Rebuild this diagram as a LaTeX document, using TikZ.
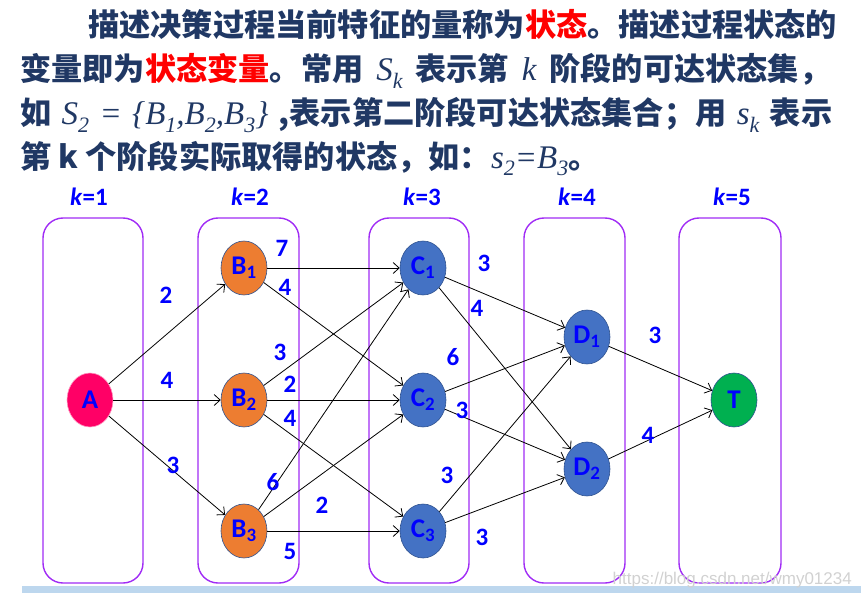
\documentclass[tikz,border=0pt]{standalone}
\usepackage{fontspec}
\setmainfont{Carlito}
\newfontfamily\cjk{Noto Sans CJK SC}
\newfontfamily\tnr{Liberation Serif}
\newfontfamily\wmfont{Liberation Sans}
\usetikzlibrary{shapes.geometric,arrows.meta}
\definecolor{navy}{HTML}{203864}
\definecolor{stageviolet}{HTML}{A02BF5}
\definecolor{nodeblue}{HTML}{4472C4}
\definecolor{nodeorange}{HTML}{ED7D31}
\definecolor{nodepink}{HTML}{FF0066}
\definecolor{nodegreen}{HTML}{00B050}
\definecolor{nodeedge}{HTML}{2F528F}
\definecolor{barblue}{HTML}{BDD7EE}
\newcommand{\mv}[2]{{\tnr\mdseries\itshape\fontsize{33}{33}\selectfont #1\raisebox{-.22em}{\fontsize{22}{22}\selectfont #2}}}
\newcommand{\mt}[1]{{\tnr\mdseries\itshape\fontsize{33}{33}\selectfont #1}}

\begin{document}
\begin{tikzpicture}[x=1pt,y=-1pt,
    stage/.style={draw=stageviolet,line width=1.4pt,rounded corners=20pt},
    state/.style={ellipse,fill=#1,draw=nodeedge,line width=.6pt,minimum width=46pt,
        minimum height=54pt,inner sep=0pt,text=blue,font=\fontsize{27}{27}\selectfont\bfseries},
    wt/.style={text=blue,inner sep=0pt,font=\fontsize{25}{25}\selectfont\bfseries},
    link/.style={-{Straight Barb[length=6pt,width=11pt]},line width=.8pt},
    para/.style={anchor=base west,inner sep=0pt,text=navy,font=\fontsize{31.2}{31.2}\selectfont\cjk\bfseries}]
  \useasboundingbox (0,0) rectangle (861,596);
  % text above
  \node[para] (l1) at (88,37) {描述决策过程当前特征的量称为\textcolor{red}{状态}。描述过程状态的};
  \node[para] (l2) at (20,81) {\makebox[810pt][s]{变量即为\textcolor{red}{状态变量}。常用 \mv{S}{k} 表示第 \mt{k} 阶段的可达状态集，}};
  \node[para] (l3) at (20,125) {\makebox[812pt][s]{如 \mv{S}{2} \mt{=} \mt{\{}\mv{B}{1}\mt{,}\mv{B}{2}\mt{,}\mv{B}{3}\mt{\}} ,表示第二阶段可达状态集合；用 \mv{s}{k} 表示}};
  \node[para] (l4) at (20,168) {第 k 个阶段实际取得的状态，如：\mv{s}{2}\mt{=}\mv{B}{3}。};
  % stages
  \fill[barblue] (22,586) rectangle (861,593);
  \draw[stage] (43,218) rectangle (143,583);
  \draw[stage] (198,218) rectangle (299,583);
  \draw[stage] (369,218) rectangle (469,583);
  \draw[stage] (524,218) rectangle (625,583);
  \draw[stage] (679,218) rectangle (781,583);
  \foreach \k/\x in {1/89,2/250,3/422,4/577,5/732}
    \node[wt] (k\k) at (\x,197) {\textit{k}=\k};
  % states
  \node[state=nodepink,draw=nodepink!40] (A) at (90,400) {A};
  \node[state=nodeorange] (B1) at (244,268) {B\textsubscript{1}};
  \node[state=nodeorange] (B2) at (244,400) {B\textsubscript{2}};
  \node[state=nodeorange] (B3) at (244,531) {B\textsubscript{3}};
  \node[state=nodeblue] (C1) at (423,268) {C\textsubscript{1}};
  \node[state=nodeblue] (C2) at (423,400) {C\textsubscript{2}};
  \node[state=nodeblue] (C3) at (423,531) {C\textsubscript{3}};
  \node[state=nodeblue] (D1) at (587,337) {D\textsubscript{1}};
  \node[state=nodeblue] (D2) at (587,469) {D\textsubscript{2}};
  \node[state=nodegreen] (T) at (734,400) {T};
  \foreach \s/\t in {A/B1,A/B2,A/B3,B1/C1,B1/C2,B2/C1,B2/C2,B2/C3,B3/C1,B3/C2,B3/C3,
      C1/D1,C1/D2,C2/D1,C2/D2,C3/D1,C3/D2,D1/T,D2/T}
    \draw[link] (\s) -- (\t);
  % weights
  \node[wt] (wAB1) at (166,295) {2};
  \node[wt] (wAB2) at (167,380) {4};
  \node[wt] (wAB3) at (173,465) {3};
  \node[wt] (wB1C1) at (282,248) {7};
  \node[wt] (wB1C2) at (285,287) {4};
  \node[wt] (wB2C1) at (280,352) {3};
  \node[wt] (wB2C2) at (290,384) {2};
  \node[wt] (wB2C3) at (290,418) {4};
  \node[wt] (wB3C1) at (273,482) {6};
  \node[wt] (wB3C2) at (322,505) {2};
  \node[wt] (wB3C3) at (290,551) {5};
  \node[wt] (wC1D1) at (484,263) {3};
  \node[wt] (wC1D2) at (477,308) {4};
  \node[wt] (wC2D1) at (453,357) {6};
  \node[wt] (wC2D2) at (462,410) {3};
  \node[wt] (wC3D1) at (447,475) {3};
  \node[wt] (wC3D2) at (482,537) {3};
  \node[wt] (wD1T) at (655,335) {3};
  \node[wt] (wD2T) at (648,435) {4};
  \node[anchor=base east,inner sep=0pt,text=black!18,font=\fontsize{17}{17}\selectfont\wmfont] (wm) at (852,584) {https://blog.csdn.net/wmy01234};
\end{tikzpicture}
\end{document}
